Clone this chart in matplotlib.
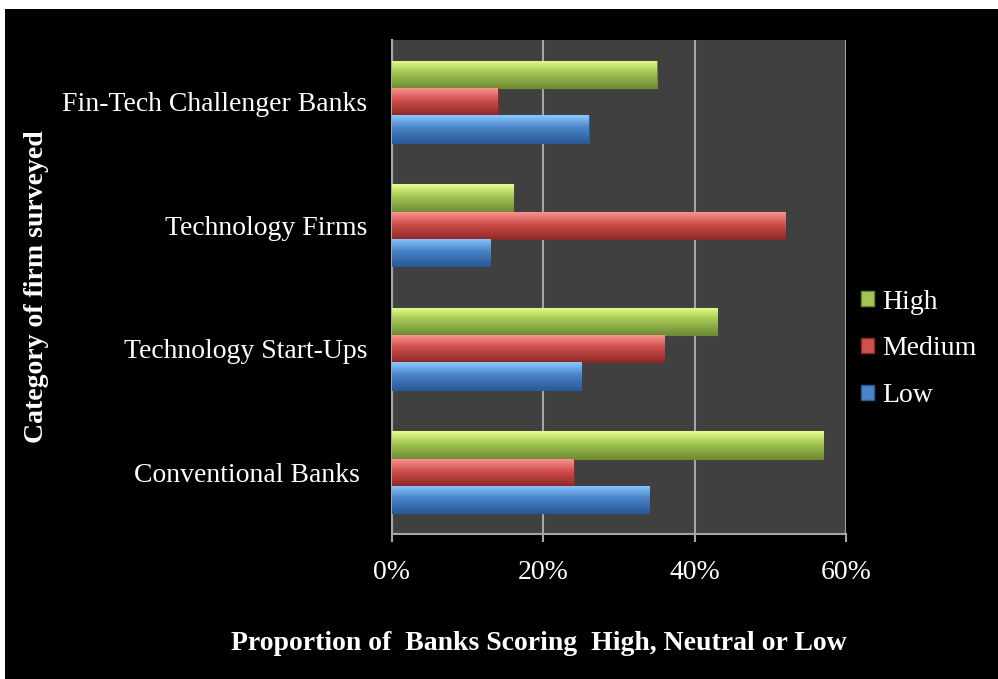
import numpy as np
import matplotlib.pyplot as plt
from matplotlib.patches import Rectangle, Patch
from matplotlib.colors import to_rgb

plt.rcParams['font.family'] = ['Liberation Serif', 'DejaVu Serif']

categories = ["Conventional Banks ", "Technology Start-Ups", "Technology Firms", "Fin-Tech Challenger Banks"]
high = [0.57, 0.43, 0.16, 0.35]
medium = [0.24, 0.36, 0.52, 0.14]
low = [0.34, 0.25, 0.13, 0.26]
series_names = ["High", "Medium", "Low"]
ticks = [0, 0.2, 0.4, 0.6]
tick_labels = ["0%", "20%", "40%", "60%"]

# (light top, base, dark bottom)
shades = {
    "High": ("#e6ff8c", "#a4c653", "#6f8c35"),
    "Medium": ("#ff9a96", "#d0504c", "#8f2a27"),
    "Low": ("#8cc8ff", "#4a85c8", "#2a5a98"),
}


def gradient_img(light, base, dark, n=64):
    c1, c2, c3 = np.array(to_rgb(light)), np.array(to_rgb(base)), np.array(to_rgb(dark))
    t = np.linspace(0, 1, n)
    rows = []
    for v in t:
        if v < 0.45:
            rows.append(c1 + (c2 - c1) * (v / 0.45))
        else:
            rows.append(c2 + (c3 - c2) * ((v - 0.45) / 0.55))
    return np.array(rows).reshape(n, 1, 3)


fig = plt.figure(figsize=(9.98, 6.79), dpi=100, facecolor="white")
fig.patches.append(Rectangle((5 / 998, 0), 1, 1 - 9 / 679, transform=fig.transFigure,
                             facecolor="black", edgecolor="none", zorder=-5))

ax = fig.add_axes([392 / 998, 1 - 534 / 679, (846 - 392) / 998, (534 - 40) / 679])
ax.set_facecolor("#404040")

y = np.arange(len(categories))
h = 0.22
offsets = {"High": h, "Medium": 0, "Low": -h}
values = {"High": high, "Medium": medium, "Low": low}

for name in series_names:
    light, base, dark = shades[name]
    bars = ax.barh(y + offsets[name], values[name], height=h, color=base,
                   edgecolor=dark, linewidth=0.8, zorder=3)
    img = gradient_img(light, base, dark)
    for b in bars:
        x0, y0 = b.get_x(), b.get_y()
        w, hh = b.get_width(), b.get_height()
        im = ax.imshow(img, extent=[x0, x0 + w, y0, y0 + hh], aspect="auto",
                       origin="upper", zorder=3.5, interpolation="bilinear")
        im.set_clip_path(b)

ax.set_xlim(0, 0.6)
ax.set_ylim(-0.5, len(categories) - 0.5)
ax.set_xticks(ticks)
ax.set_xticklabels(tick_labels, color="white", fontsize=20)
ax.set_yticks(y)
ax.set_yticklabels(categories, color="white", fontsize=20)
ax.tick_params(axis="y", length=0, pad=18)
ax.tick_params(axis="x", length=6, color="#a6a6a6", width=1.5, pad=13)

ax.grid(axis="x", color="#a6a6a6", linewidth=1.5, zorder=1)
ax.set_axisbelow(True)
for side in ["top", "right"]:
    ax.spines[side].set_visible(False)
for side in ["left", "bottom"]:
    ax.spines[side].set_color("#a6a6a6")
    ax.spines[side].set_linewidth(1.5)

handles = [Patch(facecolor=shades[n][1], edgecolor=shades[n][2], label=n) for n in series_names]
leg = fig.legend(handles=handles, loc="center left", bbox_to_anchor=(836 / 998, 1 - 349 / 679),
                 frameon=False, fontsize=20, labelcolor="white", handlelength=0.45,
                 handleheight=0.45, handletextpad=0.3, labelspacing=0.78)

fig.text(37 / 998, 1 - 287 / 679, "Category of firm surveyed", rotation=90, color="white",
         fontsize=20, fontweight="bold", ha="center", va="center")
fig.text(539 / 998, 1 - 643 / 679, "Proportion of  Banks Scoring  High, Neutral or Low",
         color="white", fontsize=20, fontweight="bold", ha="center", va="center")

fig.savefig("out.png", dpi=100, facecolor=fig.get_facecolor())
